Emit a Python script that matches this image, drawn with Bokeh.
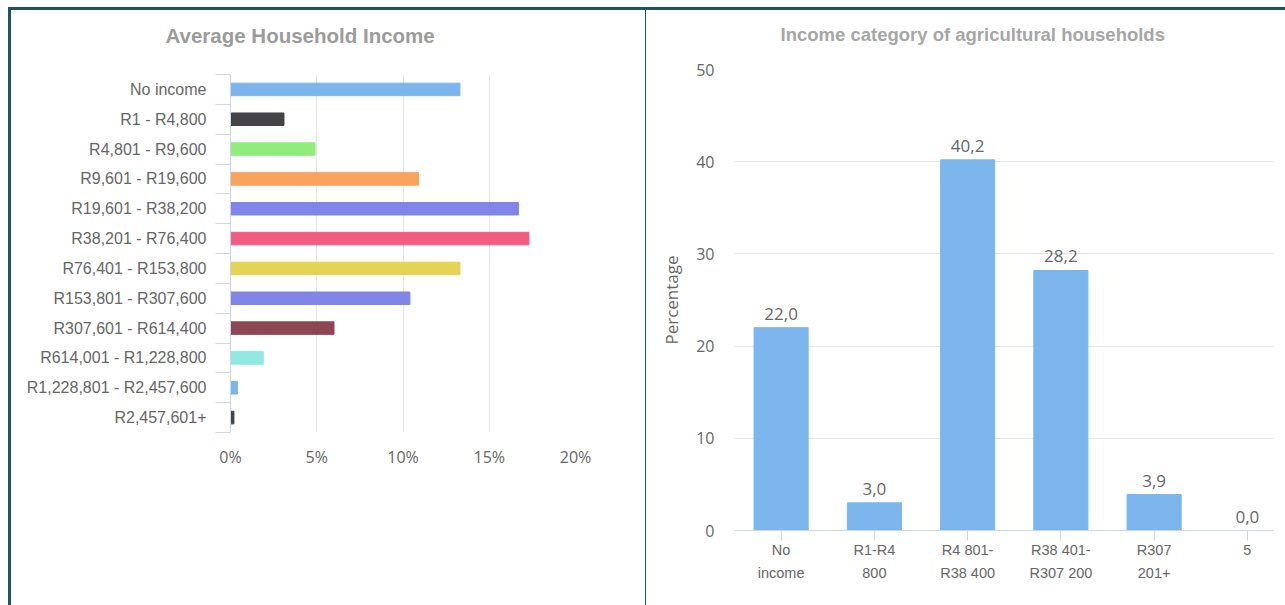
from bokeh.plotting import figure
from bokeh.models import ColumnDataSource, FixedTicker, LabelSet, Range1d, Div, Title
from bokeh.core.properties import value
from bokeh.embed import file_html
from bokeh.resources import INLINE

# ---------------- data ----------------
income_bands = ["No income", "R1 - R4,800", "R4,801 - R9,600", "R9,601 - R19,600",
                "R19,601 - R38,200", "R38,201 - R76,400", "R76,401 - R153,800",
                "R153,801 - R307,600", "R307,601 - R614,400", "R614,001 - R1,228,800",
                "R1,228,801 - R2,457,600", "R2,457,601+"]
income_share = [13.3, 3.1, 4.9, 10.9, 16.7, 17.3, 13.3, 10.4, 6.0, 1.9, 0.4, 0.2]
bar_colors = ['#7cb5ec', '#434348', '#90ed7d', '#f7a35c', '#8085e9', '#f15c80',
              '#e4d354', '#8085e8', '#8d4653', '#91e8e1', '#7cb5ec', '#434348']
pct_ticks = [0, 5, 10, 15, 20]

agri_categories = ["No\nincome", "R1-R4\n800", "R4 801-\nR38 400", "R38 401-\nR307 200",
                   "R307\n201+", "5"]
agri_share = [22.0, 3.0, 40.2, 28.2, 3.9, 0.0]
agri_ticks = [0, 10, 20, 30, 40, 50]

LABEL = "#666666"
GRID = "#e6e6e6"
AXIS = "#ccd6eb"
FRAME = "#1d5461"

# ---------------- left chart ----------------
n = len(income_bands)
ypos = [n - 1 - i for i in range(n)]
src1 = ColumnDataSource(dict(y=ypos, v=income_share, c=bar_colors))

p1 = figure(width=634, height=595, output_backend="svg", toolbar_location=None,
            x_range=Range1d(0, 20), y_range=Range1d(-0.5, n - 0.5),
            min_border_left=219, min_border_right=70, min_border_top=64,
            min_border_bottom=173,
            styles={"position": "absolute", "left": "11px", "top": "10px"})
p1.outline_line_color = None
# spacer between frame and title
p1.add_layout(Title(text=" ", text_font_size="2px", standoff=22), "above")
p1.title = Title(text="Average Household Income", align="left", offset=-65,
                 text_font="Liberation Sans", text_font_style="bold",
                 text_font_size="20.5px", text_color="#9b9b9b", standoff=4)
p1.hbar(y="y", right="v", left=0, height=0.42, color="c", source=src1)

p1.xaxis.ticker = FixedTicker(ticks=pct_ticks)
p1.xaxis.major_label_overrides = {t: f"{t}%" for t in pct_ticks}
p1.xaxis.axis_line_color = None
p1.xaxis.major_tick_line_color = None
p1.xaxis.major_tick_out = 0
p1.xaxis.major_tick_in = 0
p1.xaxis.minor_tick_line_color = None
p1.xaxis.minor_tick_out = 0
p1.xaxis.major_label_standoff = 13
p1.xaxis.major_label_text_font = "Open Sans"
p1.xaxis.major_label_text_font_size = "16px"
p1.xaxis.major_label_text_color = LABEL
p1.xgrid.ticker = FixedTicker(ticks=pct_ticks)
p1.xgrid.grid_line_color = GRID
p1.ygrid.grid_line_color = None

p1.yaxis.ticker = FixedTicker(ticks=ypos, minor_ticks=[k - 0.5 for k in range(n + 1)])
p1.yaxis.major_label_overrides = {y: name for y, name in zip(ypos, income_bands)}
p1.yaxis.axis_line_color = AXIS
p1.yaxis.major_tick_line_color = None
p1.yaxis.major_tick_out = 0
p1.yaxis.major_tick_in = 0
p1.yaxis.minor_tick_line_color = AXIS
p1.yaxis.minor_tick_out = 15
p1.yaxis.minor_tick_in = 0
p1.yaxis.major_label_standoff = 9
p1.yaxis.major_label_text_font = "Liberation Sans"
p1.yaxis.major_label_text_font_size = "16px"
p1.yaxis.major_label_text_color = LABEL

# ---------------- right chart ----------------
xidx = list(range(len(agri_categories)))
src2 = ColumnDataSource(dict(x=xidx, v=agri_share,
                             t=[f"{v:.1f}".replace(".", ",") for v in agri_share]))

p2 = figure(width=639, height=595, output_backend="svg", toolbar_location=None,
            x_range=Range1d(-0.5, 5.28), y_range=Range1d(0, 50),
            min_border_left=88, min_border_right=12, min_border_top=59,
            min_border_bottom=75,
            styles={"position": "absolute", "left": "646px", "top": "10px"})
p2.outline_line_color = None
p2.add_layout(Title(text=" ", text_font_size="2px", standoff=19), "above")
p2.title = Title(text="Income category of agricultural households", align="left",
                 offset=46, text_font="Liberation Sans", text_font_style="bold",
                 text_font_size="18.5px", text_color="#a6a6a6", standoff=4)
p2.vbar(x="x", top="v", width=0.58, color="#7cb5ec", source=src2)
p2.add_layout(LabelSet(x="x", y="v", text="t", source=src2, y_offset=8,
                       text_align="center", text_baseline="bottom",
                       text_font=value("Open Sans"), text_font_size=value("17px"),
                       text_color=LABEL))

p2.yaxis.ticker = FixedTicker(ticks=agri_ticks)
p2.yaxis.axis_line_color = None
p2.yaxis.major_tick_line_color = None
p2.yaxis.major_tick_out = 0
p2.yaxis.major_tick_in = 0
p2.yaxis.minor_tick_line_color = None
p2.yaxis.minor_tick_out = 0
p2.yaxis.major_label_standoff = 20
p2.yaxis.major_label_text_font = "Open Sans"
p2.yaxis.major_label_text_font_size = "16px"
p2.yaxis.major_label_text_color = LABEL
p2.yaxis.axis_label = "Percentage"
p2.yaxis.axis_label_standoff = 10
p2.yaxis.axis_label_text_font = "Open Sans"
p2.yaxis.axis_label_text_font_style = "normal"
p2.yaxis.axis_label_text_font_size = "17px"
p2.yaxis.axis_label_text_color = LABEL
p2.ygrid.ticker = FixedTicker(ticks=agri_ticks)
p2.ygrid.grid_line_color = GRID
p2.xgrid.grid_line_color = None

p2.xaxis.ticker = FixedTicker(ticks=xidx)
p2.xaxis.major_label_overrides = {i: c for i, c in zip(xidx, agri_categories)}
p2.xaxis.axis_line_color = AXIS
p2.xaxis.major_tick_line_color = AXIS
p2.xaxis.major_tick_out = 10
p2.xaxis.major_tick_in = 0
p2.xaxis.minor_tick_line_color = None
p2.xaxis.minor_tick_out = 0
p2.xaxis.major_label_standoff = 1
p2.xaxis.major_label_text_font = "Liberation Sans"
p2.xaxis.major_label_text_font_size = "14.5px"
p2.xaxis.major_label_text_color = LABEL
p2.xaxis.major_label_text_line_height = 1.45

# ---------------- frame lines ----------------
top_line = Div(text="", width=1277, height=3, margin=0,
               styles={"position": "absolute", "left": "8px", "top": "7px",
                       "background-color": FRAME})
left_line = Div(text="", width=3, height=598, margin=0,
                styles={"position": "absolute", "left": "8px", "top": "7px",
                        "background-color": FRAME})
divider = Div(text="", width=1, height=595, margin=0,
              styles={"position": "absolute", "left": "645px", "top": "10px",
                      "background-color": FRAME})

open("out.html", "w").write(file_html([p1, p2, top_line, left_line, divider], INLINE))
